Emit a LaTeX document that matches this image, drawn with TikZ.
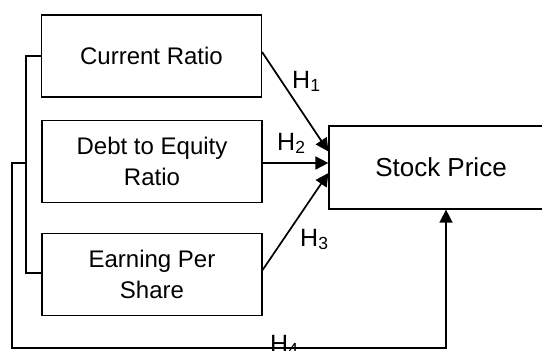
\documentclass[tikz,border=0pt]{standalone}
\usepackage{fontspec}
\setmainfont{Liberation Sans}
\usetikzlibrary{arrows.meta, calc}
\tikzset{%
   % variable boxes
   varbox/.style={
      rectangle,
      draw,
      line width=1.2bp,
      align=center,
      minimum width=220bp,
      minimum height=82bp,
      inner sep=0pt,
      font=\fontsize{24bp}{31bp}\selectfont
   },
   hyp/.style={
      -{Triangle[length=13bp, width=13bp]},
      line width=1.7bp
   },
   brk/.style={
      line width=1.2bp
   },
   hlab/.style={
      anchor=base west,
      inner sep=0pt,
      font=\fontsize{25bp}{30bp}\selectfont
   },
}

\begin{document}
\begin{tikzpicture}[x=1bp, y=-1bp]
   \useasboundingbox (0,0) rectangle (542,350);
   \node[varbox] (cr) at (151.5,56) {Current Ratio};
   \node[varbox] (der) at (152,161.5) {Debt to Equity\\Ratio};
   \node[varbox] (eps) at (152,274.5) {Earning Per\\Share};
   \node[varbox, minimum width=224bp, minimum height=83bp,
         font=\fontsize{26bp}{31bp}\selectfont] (sp) at (441,167.5) {Stock Price};
   % hypotheses
   \draw[hyp] ($(cr.east)+(0,-4)$) -- ($(sp.west)+(0,-16)$);
   \draw[hyp] ($(der.east)+(0,1.5)$) -- ($(sp.west)+(0,-4.5)$);
   \draw[hyp] ($(eps.east)+(0,-4.5)$) -- ($(sp.west)+(0,5.5)$);
   \node[hlab] (h1) at (292,88) {H\textsubscript{1}};
   \node[hlab] (h2) at (277,150) {H\textsubscript{2}};
   \node[hlab] (h3) at (300,246) {H\textsubscript{3}};
   \node[hlab] (h4) at (270,352) {H\textsubscript{4}};
   % bracket round the three boxes
   \coordinate (bt) at (26,56);
   \coordinate (bb) at (26,273);
   \coordinate (bm) at (26,163);
   \coordinate (lo) at (12,348);
   \draw[brk] (cr.west) -- (bt) -- (bb) -- (eps.west |- bb);
   \draw[hyp, line width=1.5bp] (bm) -- (bm -| lo) -- (lo) -- (lo -| 446,0) -- (446,0 |- sp.south);
\end{tikzpicture}
\end{document}
